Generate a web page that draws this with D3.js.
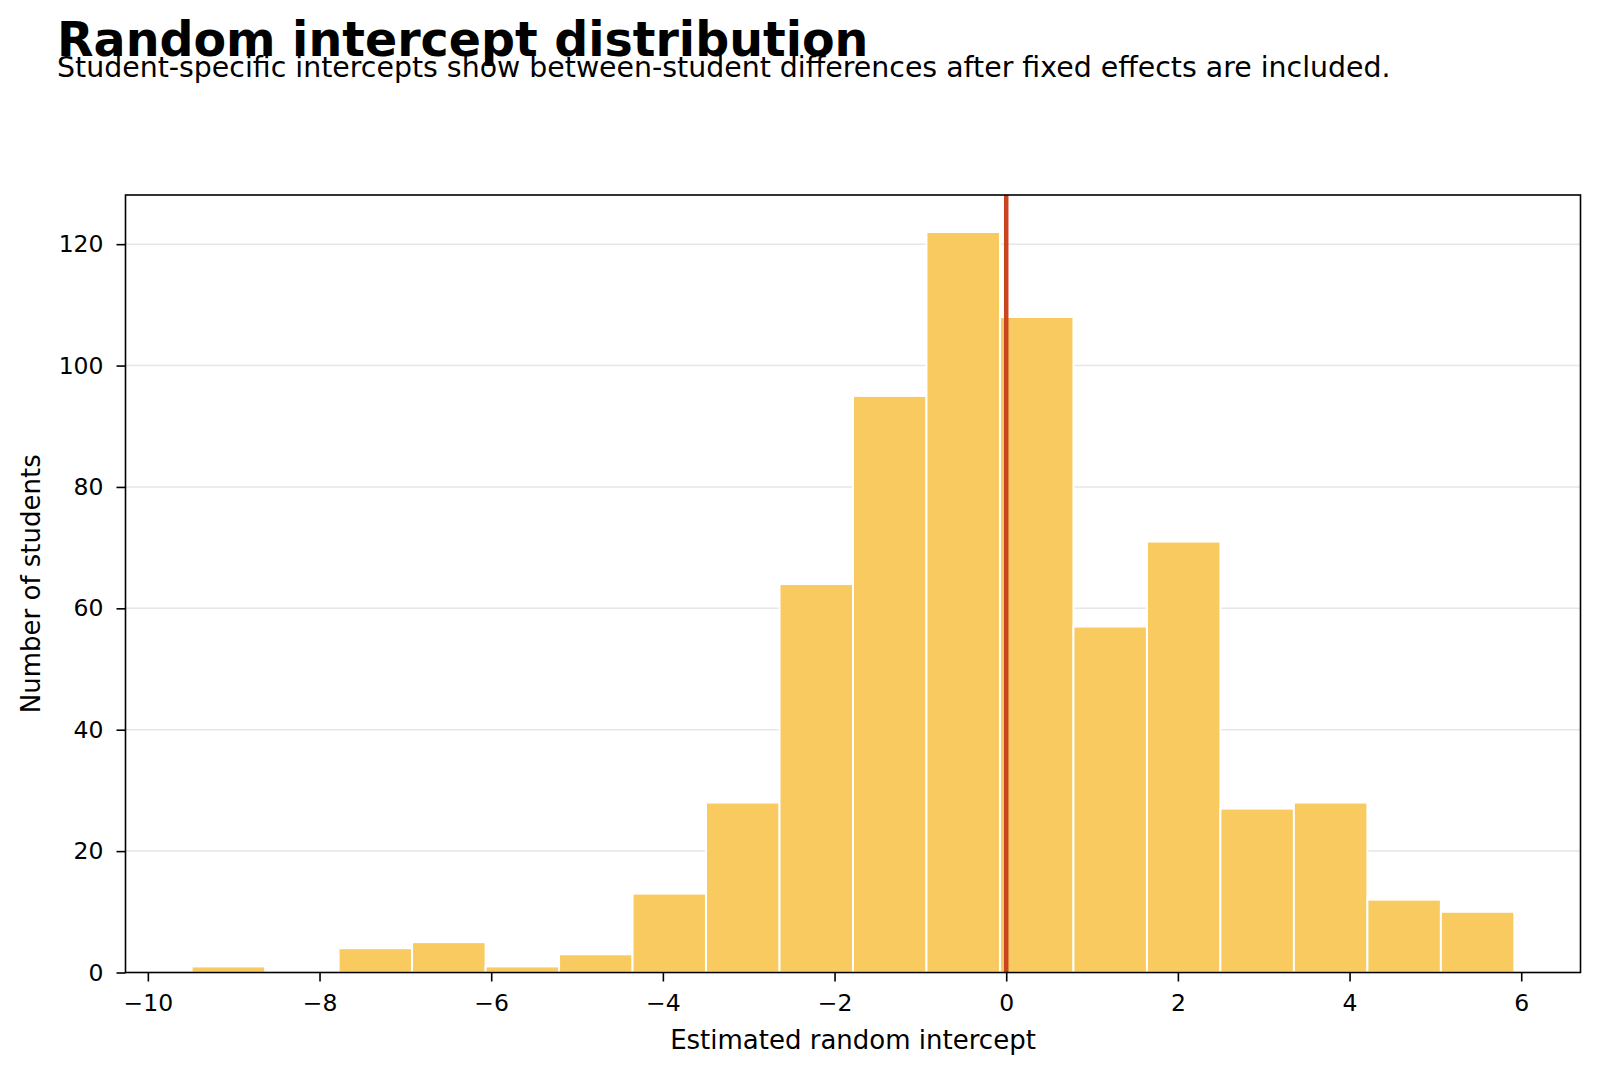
<!DOCTYPE html>
<html>
<head>
<meta charset="utf-8">
<script src="https://cdn.jsdelivr.net/npm/d3@7"></script>
<style>
  body { margin: 0; background: #fff; }
  svg { display: block; font-family: "DejaVu Sans", sans-serif; }
</style>
</head>
<body>
<div id="chart"></div>
<script>
// histogram data
const binStart = -9.49;
const binEnd = 5.92;
const counts = [1, 0, 4, 5, 1, 3, 13, 28, 64, 95, 122, 108, 57, 71, 27, 28, 12, 10];
const xTicks = [-10, -8, -6, -4, -2, 0, 2, 4, 6];
const yTicks = [0, 20, 40, 60, 80, 100, 120];
const refLine = 0;

function drawChart() {
    const width = 1600;
    const height = 1073;
    const margin = {left: 125.5, right: 1600 - 1580.5, top: 195, bottom: 1073 - 972.5};

    const svg = d3.select("#chart")
        .append("svg")
        .attr("width", width)
        .attr("height", height);

    const binW = (binEnd - binStart) / counts.length;
    const bins = counts.map((c, i) => ({x0: binStart + i * binW, x1: binStart + (i + 1) * binW, n: c}));

    const pad = (binEnd - binStart) * 0.05;
    const x = d3.scaleLinear()
        .domain([binStart - pad, binEnd + pad])
        .range([margin.left, width - margin.right]);

    const y = d3.scaleLinear()
        .domain([0, d3.max(counts) * 1.05])
        .range([height - margin.bottom, margin.top]);

    // gridlines
    svg.append("g")
        .selectAll("line")
        .data(yTicks.slice(1))
        .join("line")
        .attr("x1", margin.left)
        .attr("x2", width - margin.right)
        .attr("y1", d => y(d))
        .attr("y2", d => y(d))
        .attr("stroke", "#e6e6e6")
        .attr("stroke-width", 1.5);

    // bars
    svg.append("g")
        .selectAll("rect")
        .data(bins.filter(d => d.n > 0))
        .join("rect")
        .attr("x", d => x(d.x0))
        .attr("width", d => x(d.x1) - x(d.x0))
        .attr("y", d => y(d.n))
        .attr("height", d => y(0) - y(d.n))
        .attr("fill", "#f8ca5f")
        .attr("stroke", "#ffffff")
        .attr("stroke-width", 2);

    // reference line at zero
    svg.append("line")
        .attr("x1", x(refLine))
        .attr("x2", x(refLine))
        .attr("y1", margin.top)
        .attr("y2", height - margin.bottom)
        .attr("stroke", "#c9441f")
        .attr("stroke-width", 4.5);

    // axes
    const xAxis = svg.append("g")
        .attr("transform", `translate(0,${height - margin.bottom})`)
        .call(d3.axisBottom(x).tickValues(xTicks).tickSize(9).tickPadding(13)
            .tickFormat(d => d < 0 ? "\u2212" + Math.abs(d) : d));

    const yAxis = svg.append("g")
        .attr("transform", `translate(${margin.left},0)`)
        .call(d3.axisLeft(y).tickValues(yTicks).tickSize(9).tickPadding(13));

    [xAxis, yAxis].forEach(a => {
        a.select(".domain").remove();
        a.selectAll("line").attr("stroke", "#000").attr("stroke-width", 1.6);
        a.selectAll("text").attr("font-size", 23.5).attr("fill", "#000")
            .attr("font-family", "DejaVu Sans, sans-serif");
    });

    // frame
    svg.append("rect")
        .attr("x", margin.left)
        .attr("y", margin.top)
        .attr("width", width - margin.left - margin.right)
        .attr("height", height - margin.top - margin.bottom)
        .attr("fill", "none")
        .attr("stroke", "#000")
        .attr("stroke-width", 1.6);

    // labels
    svg.append("text")
        .attr("x", (margin.left + width - margin.right) / 2)
        .attr("y", 1049)
        .attr("text-anchor", "middle")
        .attr("font-size", 26)
        .text("Estimated random intercept");

    svg.append("text")
        .attr("transform", `translate(40,${(margin.top + height - margin.bottom) / 2}) rotate(-90)`)
        .attr("text-anchor", "middle")
        .attr("font-size", 26)
        .text("Number of students");

    svg.append("text")
        .attr("x", 57)
        .attr("y", 55.5)
        .attr("font-size", 47.5)
        .attr("font-weight", "bold")
        .text("Random intercept distribution");

    svg.append("text")
        .attr("x", 57)
        .attr("y", 76.5)
        .attr("font-size", 28.4)
        .text("Student-specific intercepts show between-student differences after fixed effects are included.");
}
drawChart();
</script>
</body>
</html>
